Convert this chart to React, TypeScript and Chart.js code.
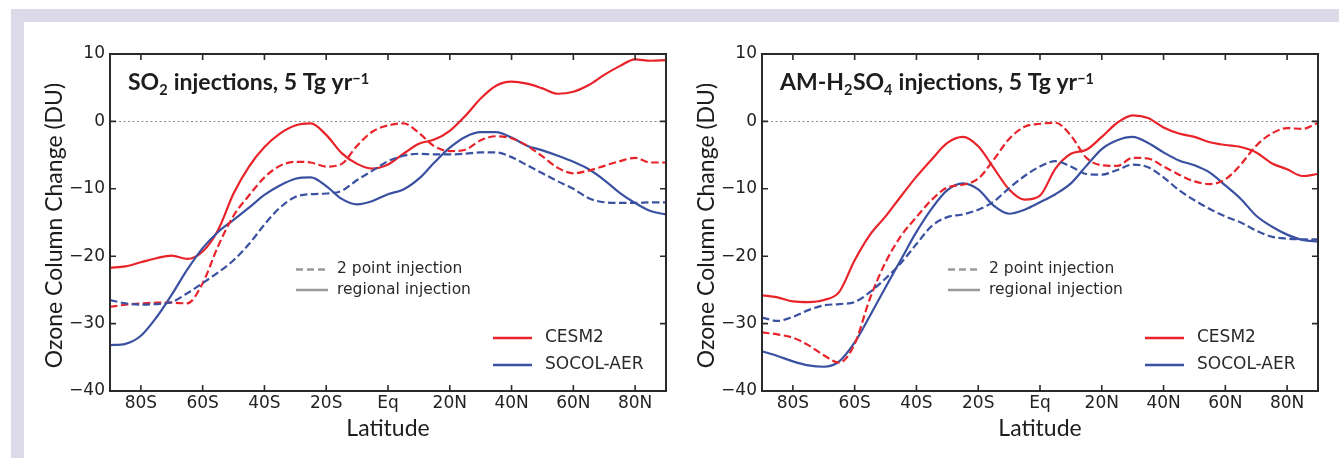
import React, { useEffect, useRef } from 'react';
import { Chart, registerables } from 'chart.js';

Chart.register(...registerables);

// ---------- data ----------
const LATITUDES = [-90, -85, -80, -75, -70, -65, -60, -55, -50, -45, -40, -35, -30, -25, -20, -15, -10, -5, 0, 5, 10, 15, 20, 25, 30, 35, 40, 45, 50, 55, 60, 65, 70, 75, 80, 85, 90];

const SO2_CESM2_REGIONAL = [-21.7, -21.5, -20.9, -20.3, -19.9, -20.4, -19.3, -16.1, -10.7, -6.7, -3.8, -1.8, -0.6, -0.3, -2.0, -4.7, -6.3, -7.0, -6.4, -4.8, -3.3, -2.7, -1.4, 0.8, 3.4, 5.3, 5.9, 5.6, 4.9, 4.1, 4.4, 5.4, 6.9, 8.2, 9.2, 9.0, 9.1];
const SO2_CESM2_TWO_POINT = [-27.5, -27.2, -27.0, -26.9, -26.9, -27.0, -24.0, -18.5, -14.0, -11.0, -8.3, -6.6, -6.0, -6.1, -6.7, -6.3, -3.6, -1.5, -0.6, -0.3, -1.7, -3.7, -4.4, -4.2, -2.8, -2.2, -2.5, -3.6, -5.2, -6.9, -7.7, -7.3, -6.6, -5.9, -5.4, -6.1, -6.1];
const SO2_SOCOL_REGIONAL = [-33.2, -33.0, -31.8, -29.1, -25.7, -22.0, -18.8, -16.4, -14.6, -12.8, -10.9, -9.5, -8.5, -8.3, -9.6, -11.5, -12.3, -11.8, -10.8, -10.1, -8.5, -6.1, -3.9, -2.3, -1.6, -1.6, -2.4, -3.6, -4.3, -5.1, -6.0, -7.1, -8.7, -10.6, -12.1, -13.3, -13.8];
const SO2_SOCOL_TWO_POINT = [-26.5, -27.0, -27.2, -27.1, -26.8, -25.5, -24.0, -22.4, -20.6, -18.2, -15.3, -12.8, -11.2, -10.8, -10.7, -10.3, -8.7, -7.3, -5.9, -5.1, -4.8, -4.9, -4.9, -4.8, -4.6, -4.6, -5.3, -6.5, -7.7, -8.9, -10.0, -11.4, -12.0, -12.1, -12.1, -12.0, -12.0];

const H2SO4_CESM2_REGIONAL = [-25.8, -26.1, -26.7, -26.8, -26.5, -25.3, -20.6, -16.8, -14.1, -11.1, -8.2, -5.6, -3.2, -2.3, -3.7, -6.9, -10.1, -11.6, -11.0, -7.0, -4.8, -4.2, -2.3, -0.2, 0.9, 0.5, -0.9, -1.8, -2.3, -3.1, -3.5, -3.8, -4.6, -6.2, -7.1, -8.1, -7.8];
const H2SO4_CESM2_TWO_POINT = [-31.3, -31.6, -32.1, -33.2, -34.7, -35.8, -33.0, -26.2, -20.9, -17.0, -14.2, -11.6, -9.8, -9.4, -8.5, -5.7, -2.6, -0.8, -0.35, -0.2, -2.1, -5.4, -6.5, -6.6, -5.4, -5.5, -6.7, -7.9, -8.9, -9.3, -8.6, -6.4, -3.6, -1.8, -1.0, -1.1, -0.2];
const H2SO4_SOCOL_REGIONAL = [-34.1, -34.8, -35.6, -36.2, -36.4, -35.6, -32.8, -28.8, -24.6, -20.5, -16.4, -12.9, -10.2, -9.2, -10.1, -12.5, -13.7, -13.1, -12.0, -10.8, -9.2, -6.6, -4.1, -2.8, -2.3, -3.2, -4.6, -5.8, -6.5, -7.6, -9.5, -11.5, -14.0, -15.6, -16.8, -17.6, -17.8];
const H2SO4_SOCOL_TWO_POINT = [-29.1, -29.6, -29.0, -28.0, -27.3, -27.1, -26.8, -25.3, -23.3, -21.0, -18.2, -15.5, -14.2, -13.8, -13.1, -11.9, -9.9, -8.1, -6.7, -5.9, -6.7, -7.8, -7.9, -7.2, -6.4, -6.8, -8.3, -10.2, -11.7, -13.0, -14.1, -15.0, -16.2, -17.1, -17.4, -17.5, -17.5];

const X_TICK_VALUES = [-80, -60, -40, -20, 0, 20, 40, 60, 80];
const X_TICK_LABELS = ['80S', '60S', '40S', '20S', 'Eq', '20N', '40N', '60N', '80N'];
const Y_TICK_VALUES = [10, 0, -10, -20, -30, -40];

const MODEL_LABELS = ['CESM2', 'SOCOL-AER'];
const INJECTION_LABELS = ['2 point injection', 'regional injection'];
const X_TITLE = 'Latitude';
const Y_TITLE = 'Ozone Column Change (DU)';

type Seg = { t: string; k?: 'sub' | 'sup' };
const SO2_TITLE: Seg[] = [{ t: 'SO' }, { t: '2', k: 'sub' }, { t: ' injections, 5 Tg yr' }, { t: '\u22121', k: 'sup' }];
const H2SO4_TITLE: Seg[] = [{ t: 'AM-H' }, { t: '2', k: 'sub' }, { t: 'SO' }, { t: '4', k: 'sub' }, { t: ' injections, 5 Tg yr' }, { t: '\u22121', k: 'sup' }];

// ---------- styles ----------
const RED = '#e8232a';
const BLUE = '#3a51a2';
const GREY = '#9a9a9a';
const INK = '#1d1d1d';
const LAVENDER = '#dcdae9';
const DASH = [7.5, 3.5];
const TICK_FONT = { family: 'DejaVu Sans', size: 17 };

function drawSegs(ctx: CanvasRenderingContext2D, segs: Seg[], x: number, y: number) {
  let cx = x;
  ctx.textAlign = 'left';
  ctx.textBaseline = 'alphabetic';
  for (const s of segs) {
    const size = s.k ? 14.5 : 23;
    ctx.font = `bold ${size}px Lato`;
    const dy = s.k === 'sub' ? 5 : s.k === 'sup' ? -6.5 : 0;
    ctx.fillText(s.t, cx, y + dy);
    cx += ctx.measureText(s.t).width + (s.k ? 0.5 : 0);
  }
}

function series(values: number[]) {
  return LATITUDES.map((lat, i) => ({ x: lat, y: values[i] }));
}

type PanelProps = {
  left: number;
  width: number;
  title: Seg[];
  cesmReg: number[];
  cesm2pt: number[];
  socolReg: number[];
  socol2pt: number[];
};

function Panel({ left, width, title, cesmReg, cesm2pt, socolReg, socol2pt }: PanelProps) {
  const ref = useRef<HTMLCanvasElement | null>(null);
  useEffect(() => {
    const canvas = ref.current;
    if (!canvas) return;
    const decor = {
      id: 'decor',
      beforeDatasetsDraw(chart: any) {
        const ctx = chart.ctx as CanvasRenderingContext2D;
        const a = chart.chartArea;
        const y0 = chart.scales.y.getPixelForValue(0);
        ctx.save();
        ctx.strokeStyle = '#8c8c8c';
        ctx.lineWidth = 1;
        ctx.setLineDash([2, 2.5]);
        ctx.beginPath();
        ctx.moveTo(a.left, Math.round(y0) + 0.5);
        ctx.lineTo(a.right, Math.round(y0) + 0.5);
        ctx.stroke();
        ctx.restore();
      },
      afterDraw(chart: any) {
        const ctx = chart.ctx as CanvasRenderingContext2D;
        const a = chart.chartArea;
        const xs = chart.scales.x;
        const ys = chart.scales.y;
        ctx.save();
        // frame
        ctx.strokeStyle = '#2a2a2a';
        ctx.lineWidth = 2;
        ctx.setLineDash([]);
        ctx.strokeRect(a.left, a.top, a.right - a.left, a.bottom - a.top);
        // inward ticks
        ctx.lineWidth = 1.6;
        ctx.beginPath();
        for (const v of X_TICK_VALUES) {
          const px = xs.getPixelForValue(v);
          ctx.moveTo(px, a.bottom);
          ctx.lineTo(px, a.bottom - 6);
          ctx.moveTo(px, a.top);
          ctx.lineTo(px, a.top + 6);
        }
        for (const v of Y_TICK_VALUES) {
          const py = ys.getPixelForValue(v);
          ctx.moveTo(a.left, py);
          ctx.lineTo(a.left + 6, py);
          ctx.moveTo(a.right, py);
          ctx.lineTo(a.right - 6, py);
        }
        ctx.stroke();

        ctx.fillStyle = INK;
        // in-plot title
        drawSegs(ctx, title, a.left + 18, a.top + 36);

        // injection legend
        ctx.strokeStyle = GREY;
        ctx.lineWidth = 2.5;
        const lx = a.left + 186;
        ctx.setLineDash([7, 4]);
        ctx.beginPath();
        ctx.moveTo(lx, a.top + 215.5);
        ctx.lineTo(lx + 30, a.top + 215.5);
        ctx.stroke();
        ctx.setLineDash([]);
        ctx.beginPath();
        ctx.moveTo(lx, a.top + 236);
        ctx.lineTo(lx + 32, a.top + 236);
        ctx.stroke();
        ctx.font = '15.5px "DejaVu Sans"';
        ctx.fillStyle = '#2a2a2a';
        ctx.textAlign = 'left';
        ctx.textBaseline = 'middle';
        ctx.fillText(INJECTION_LABELS[0], a.left + 227, a.top + 215);
        ctx.fillText(INJECTION_LABELS[1], a.left + 227, a.top + 235.5);

        // model legend
        const mx = a.left + 383;
        const cols = [RED, BLUE];
        const rows = [a.top + 284, a.top + 311];
        ctx.lineWidth = 2.5;
        ctx.font = '17px "DejaVu Sans"';
        for (let i = 0; i < 2; i++) {
          ctx.strokeStyle = cols[i];
          ctx.beginPath();
          ctx.moveTo(mx, rows[i]);
          ctx.lineTo(mx + 39, rows[i]);
          ctx.stroke();
          ctx.fillStyle = '#2a2a2a';
          ctx.fillText(MODEL_LABELS[i], a.left + 435, rows[i]);
        }

        // axis titles
        ctx.fillStyle = INK;
        ctx.font = '23px Lato';
        ctx.textAlign = 'center';
        ctx.textBaseline = 'alphabetic';
        ctx.fillText(X_TITLE, (a.left + a.right) / 2, a.bottom + 45);
        ctx.save();
        ctx.translate(a.left - 48, (a.top + a.bottom) / 2 + 3);
        ctx.rotate(-Math.PI / 2);
        ctx.fillText(Y_TITLE, 0, 0);
        ctx.restore();
        ctx.restore();
      },
    };

    const mk = (label: string, values: number[], color: string, dashed: boolean) => ({
      label,
      data: series(values),
      borderColor: color,
      backgroundColor: color,
      borderWidth: 2.2,
      borderDash: dashed ? DASH : [],
      pointRadius: 0,
      fill: false,
      cubicInterpolationMode: 'monotone' as const,
    });

    const chart = new Chart(canvas, {
      type: 'line',
      data: {
        datasets: [
          mk('SOCOL-AER 2 point', socol2pt, BLUE, true),
          mk('CESM2 2 point', cesm2pt, RED, true),
          mk('SOCOL-AER regional', socolReg, BLUE, false),
          mk('CESM2 regional', cesmReg, RED, false),
        ],
      },
      options: {
        animation: false,
        responsive: false,
        devicePixelRatio: 1,
        layout: { padding: { top: 24, right: width - 636, bottom: 0, left: 0 } },
        plugins: { legend: { display: false }, tooltip: { enabled: false } },
        scales: {
          x: {
            type: 'linear',
            min: -90,
            max: 90,
            afterBuildTicks: (s: any) => {
              s.ticks = X_TICK_VALUES.map((v) => ({ value: v }));
            },
            afterFit: (s: any) => {
              s.height = 59;
            },
            grid: { display: false, drawTicks: false, tickLength: 0 },
            border: { display: false },
            ticks: {
              autoSkip: false,
              maxRotation: 0,
              minRotation: 0,
              padding: 2,
              color: '#222',
              font: TICK_FONT,
              callback: (v: any) => X_TICK_LABELS[X_TICK_VALUES.indexOf(Number(v))] ?? '',
            },
          },
          y: {
            type: 'linear',
            min: -40,
            max: 10,
            afterBuildTicks: (s: any) => {
              s.ticks = Y_TICK_VALUES.map((v) => ({ value: v }));
            },
            afterFit: (s: any) => {
              s.width = 80;
            },
            grid: { display: false, drawTicks: false, tickLength: 0 },
            border: { display: false },
            ticks: {
              padding: 5,
              color: '#222',
              font: TICK_FONT,
              callback: (v: any) => (Number(v) < 0 ? '\u2212' + Math.abs(Number(v)) : String(v)),
            },
          },
        },
      },
      plugins: [decor],
    } as any);
    return () => chart.destroy();
  }, []);
  return (
    <canvas
      ref={ref}
      width={width}
      height={420}
      style={{ position: 'absolute', left, top: 30, width, height: 420 }}
    />
  );
}

export default function App() {
  return (
    <div style={{ position: 'fixed', left: 0, top: 0, width: 1339, height: 458, background: '#fff', overflow: 'hidden' }}>
      <div style={{ position: 'absolute', left: 11, top: 9, width: 1328, height: 13, background: LAVENDER }} />
      <div style={{ position: 'absolute', left: 11, top: 9, width: 13, height: 449, background: LAVENDER }} />
      <Panel
        left={30}
        width={660}
        title={SO2_TITLE}
        cesmReg={SO2_CESM2_REGIONAL}
        cesm2pt={SO2_CESM2_TWO_POINT}
        socolReg={SO2_SOCOL_REGIONAL}
        socol2pt={SO2_SOCOL_TWO_POINT}
      />
      <Panel
        left={682}
        width={657}
        title={H2SO4_TITLE}
        cesmReg={H2SO4_CESM2_REGIONAL}
        cesm2pt={H2SO4_CESM2_TWO_POINT}
        socolReg={H2SO4_SOCOL_REGIONAL}
        socol2pt={H2SO4_SOCOL_TWO_POINT}
      />
    </div>
  );
}
